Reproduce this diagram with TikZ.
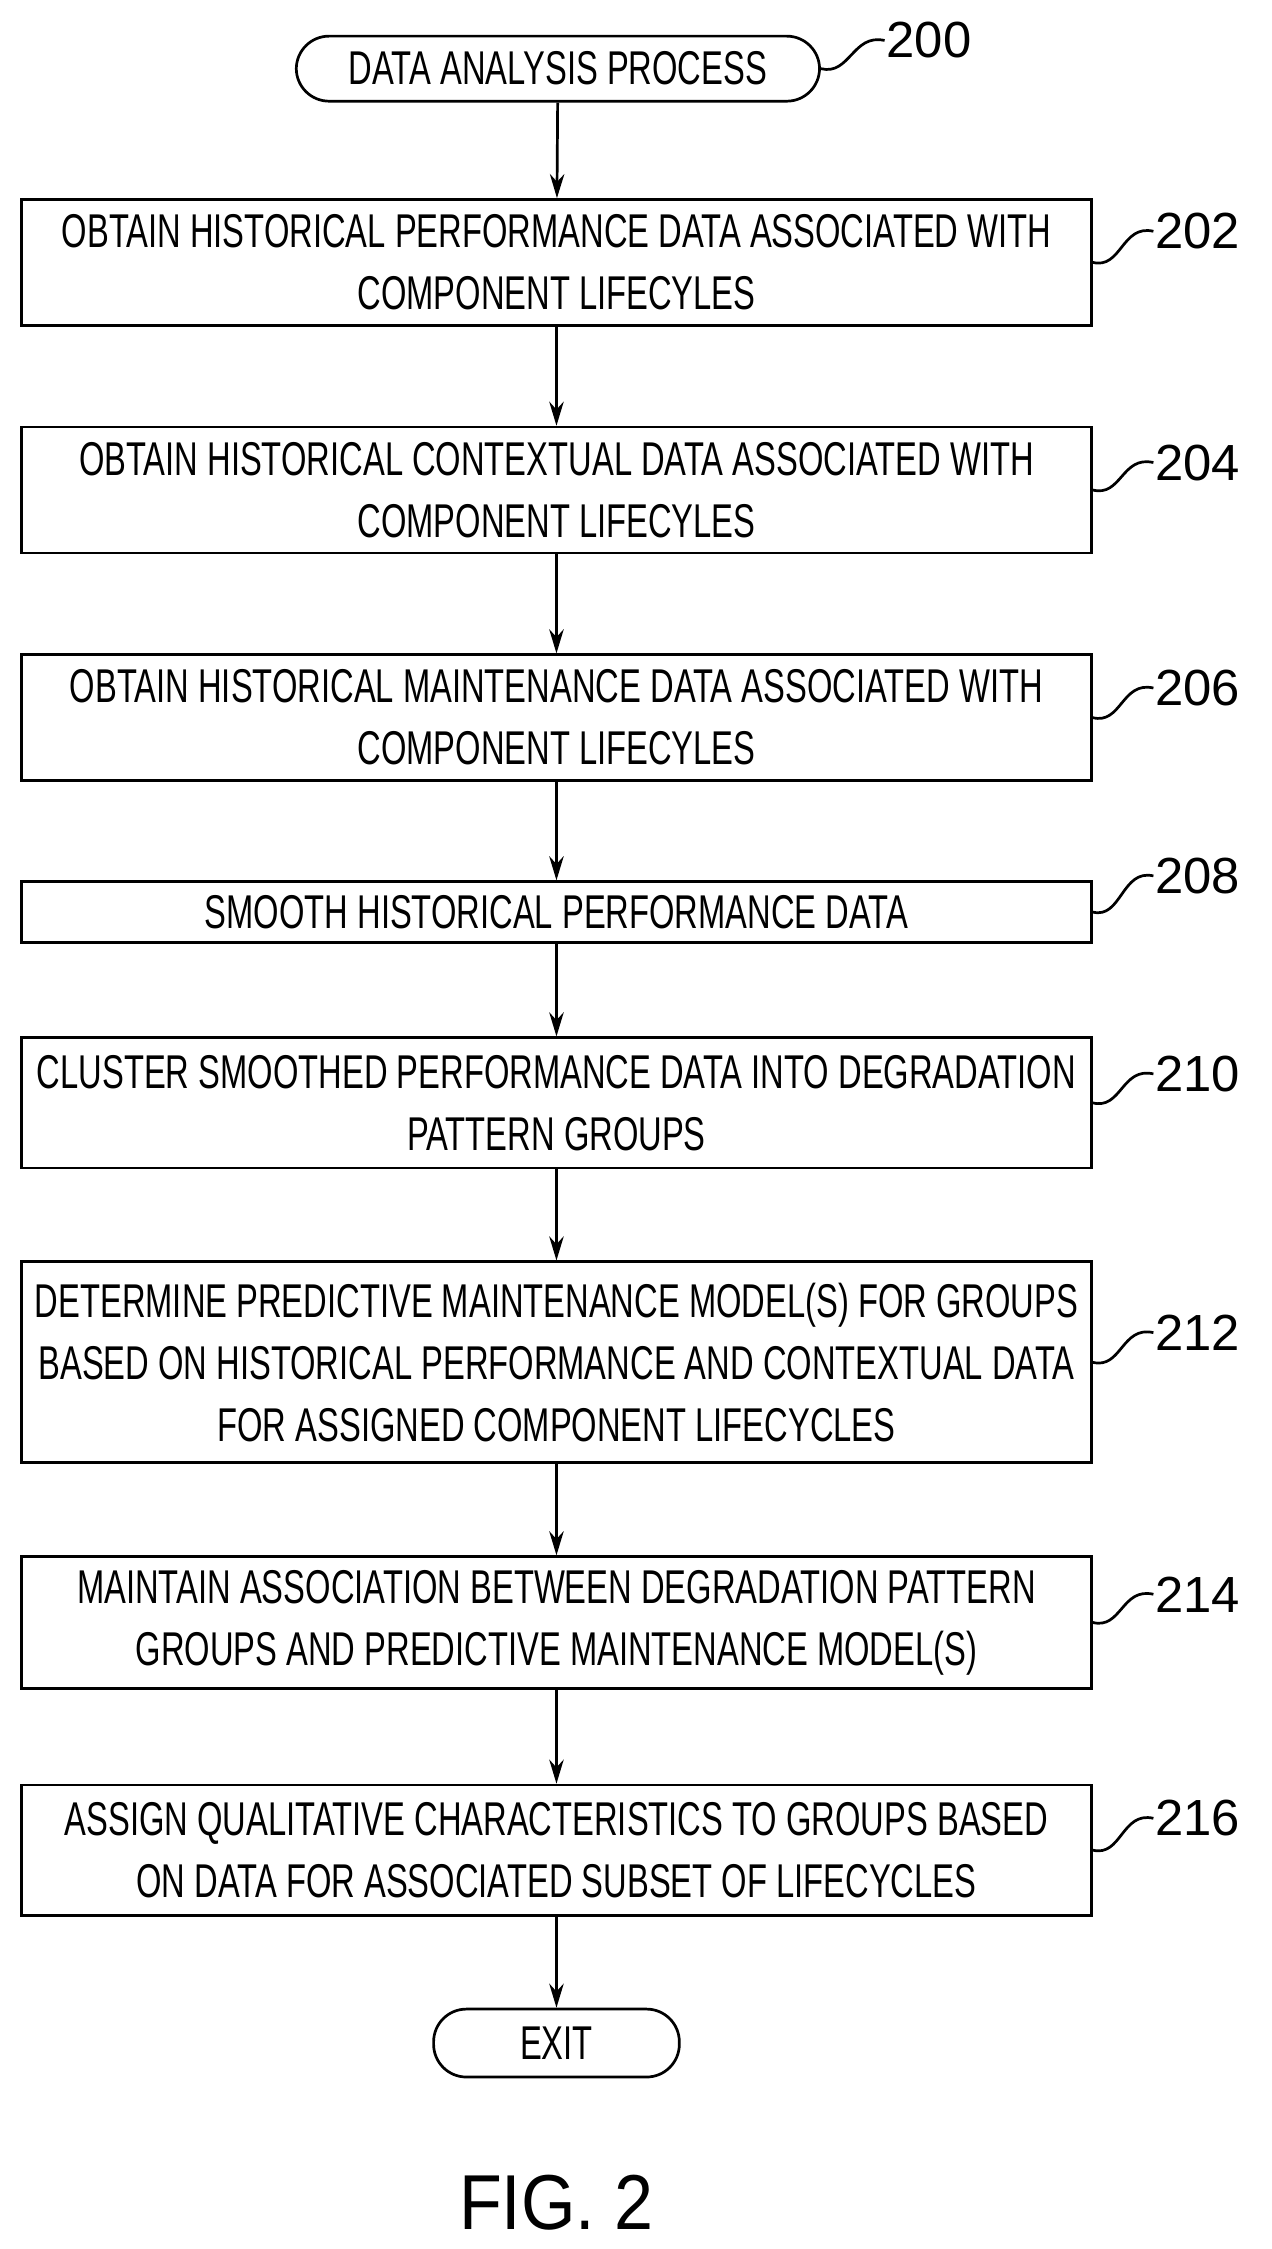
\documentclass[tikz,border=0pt]{standalone}
\usepackage{fontspec}
\setmainfont{Liberation Sans}
\usetikzlibrary{arrows.meta}
\newcommand{\cond}[1]{\scalebox{0.69}[1]{#1}}
\tikzset{
  stepbox/.style={draw,line width=1.6pt,minimum width=22.2cm,inner sep=0pt,align=center,
    font=\fontsize{28}{36.6}\selectfont},
  termbox/.style={draw,line width=1.6pt,rounded corners=0.68cm,inner sep=0pt,
    font=\fontsize{28}{36.6}\selectfont},
  reflabel/.style={anchor=west,inner sep=1pt,font=\fontsize{30}{32}\selectfont},
  flow/.style={line width=1.6pt,-{Stealth[length=0.5cm,width=0.3cm]}},
  squig/.style={line width=1.6pt}
}
\begin{document}
\begin{tikzpicture}[x=0.03cm,y=-0.03cm]
\useasboundingbox (0,0) rectangle (880,1556);
\node[termbox,minimum width=10.86cm,minimum height=1.35cm] (start) at (386,47.5) {\cond{DATA ANALYSIS PROCESS}};
\node[stepbox,minimum height=2.61cm] (b1) at (385,181.5) {\cond{OBTAIN HISTORICAL PERFORMANCE DATA ASSOCIATED WITH}\\\cond{COMPONENT LIFECYLES}};
\node[stepbox,minimum height=2.61cm] (b2) at (385,339) {\cond{OBTAIN HISTORICAL CONTEXTUAL DATA ASSOCIATED WITH}\\\cond{COMPONENT LIFECYLES}};
\node[stepbox,minimum height=2.61cm] (b3) at (385,496.5) {\cond{OBTAIN HISTORICAL MAINTENANCE DATA ASSOCIATED WITH}\\\cond{COMPONENT LIFECYLES}};
\node[stepbox,minimum height=1.26cm] (b4) at (385,631) {\cond{SMOOTH HISTORICAL PERFORMANCE DATA}};
\node[stepbox,minimum height=2.7cm] (b5) at (385,763) {\cond{CLUSTER SMOOTHED PERFORMANCE DATA INTO DEGRADATION}\\\cond{PATTERN GROUPS}};
\node[stepbox,minimum height=4.17cm] (b6) at (385,942.5) {\cond{DETERMINE PREDICTIVE MAINTENANCE MODEL(S) FOR GROUPS}\\\cond{BASED ON HISTORICAL PERFORMANCE AND CONTEXTUAL DATA}\\\cond{FOR ASSIGNED COMPONENT LIFECYCLES}};
\node[stepbox,minimum height=2.73cm] (b7) at (385,1122.5) {\cond{MAINTAIN ASSOCIATION BETWEEN DEGRADATION PATTERN}\\\cond{GROUPS AND PREDICTIVE MAINTENANCE MODEL(S)}};
\node[stepbox,minimum height=2.7cm] (b8) at (385,1280) {\cond{ASSIGN QUALITATIVE CHARACTERISTICS TO GROUPS BASED}\\\cond{ON DATA FOR ASSOCIATED SUBSET OF LIFECYCLES}};
\node[termbox,minimum width=5.1cm,minimum height=1.41cm] (exit) at (385,1413.5) {\cond{EXIT}};
\node[font=\fontsize{46}{48}\selectfont] (fig) at (385,1524) {\scalebox{0.9}[1]{FIG. 2}};
% arrows
\draw[flow] (start) -- (b1);
\draw[flow] (b1) -- (b2);
\draw[flow] (b2) -- (b3);
\draw[flow] (b3) -- (b4);
\draw[flow] (b4) -- (b5);
\draw[flow] (b5) -- (b6);
\draw[flow] (b6) -- (b7);
\draw[flow] (b7) -- (b8);
\draw[flow] (b8) -- (exit);
% reference numerals
\node[reflabel] (l200) at (612,28) {200};
\node[reflabel] (l202) at (798,160) {202};
\node[reflabel] (l204) at (798,320) {204};
\node[reflabel] (l206) at (798,476) {206};
\node[reflabel] (l208) at (798,606) {208};
\node[reflabel] (l210) at (798,743) {210};
\node[reflabel] (l212) at (798,922) {212};
\node[reflabel] (l214) at (798,1103) {214};
\node[reflabel] (l216) at (798,1258) {216};
\draw[squig] (start.east) .. controls +(20,5) and +(-22,-5) .. (l200.west);
\foreach \b/\l in {b1/l202,b2/l204,b3/l206,b4/l208,b5/l210,b6/l212,b7/l214,b8/l216}
  \draw[squig] (\b.east) .. controls +(20,5) and +(-22,-5) .. (\l.west);
\end{tikzpicture}
\end{document}
